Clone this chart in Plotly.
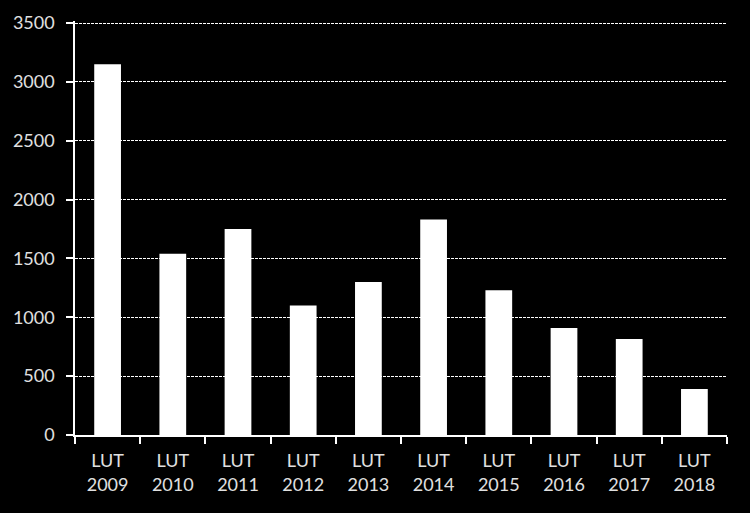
import plotly.graph_objects as go

years = ["2009", "2010", "2011", "2012", "2013", "2014", "2015", "2016", "2017", "2018"]
labels = ["LUT<br>" + y for y in years]
values = [3150, 1540, 1750, 1100, 1300, 1830, 1230, 910, 815, 390]

fig = go.Figure()
fig.add_trace(go.Bar(x=labels, y=values, marker=dict(color="white", line=dict(width=0))))

fig.update_layout(
    width=750, height=513,
    paper_bgcolor="black", plot_bgcolor="black",
    margin=dict(l=75, r=23, t=21, b=78),
    bargap=0.59,
    showlegend=False,
    font=dict(family="Lato, Open Sans, sans-serif", size=18, color="#e0e0e0"),
)
fig.update_xaxes(
    showline=True, linecolor="white", linewidth=1.5,
    ticks="outside", tickson="boundaries", ticklen=7, tickcolor="white", tickwidth=1.5,
    ticklabelstandoff=9,
    showgrid=False,
)
fig.update_yaxes(
    range=[0, 3517], dtick=500,
    showline=True, linecolor="white", linewidth=1.5,
    ticks="outside", ticklen=7, tickcolor="white", tickwidth=1.5,
    ticklabelstandoff=8,
    showgrid=True, gridcolor="white", gridwidth=1, griddash="3px,1px",
    zeroline=False,
)

fig.write_html("out.html", config={"displayModeBar": False},
               post_script="document.body.style.margin='0';")
